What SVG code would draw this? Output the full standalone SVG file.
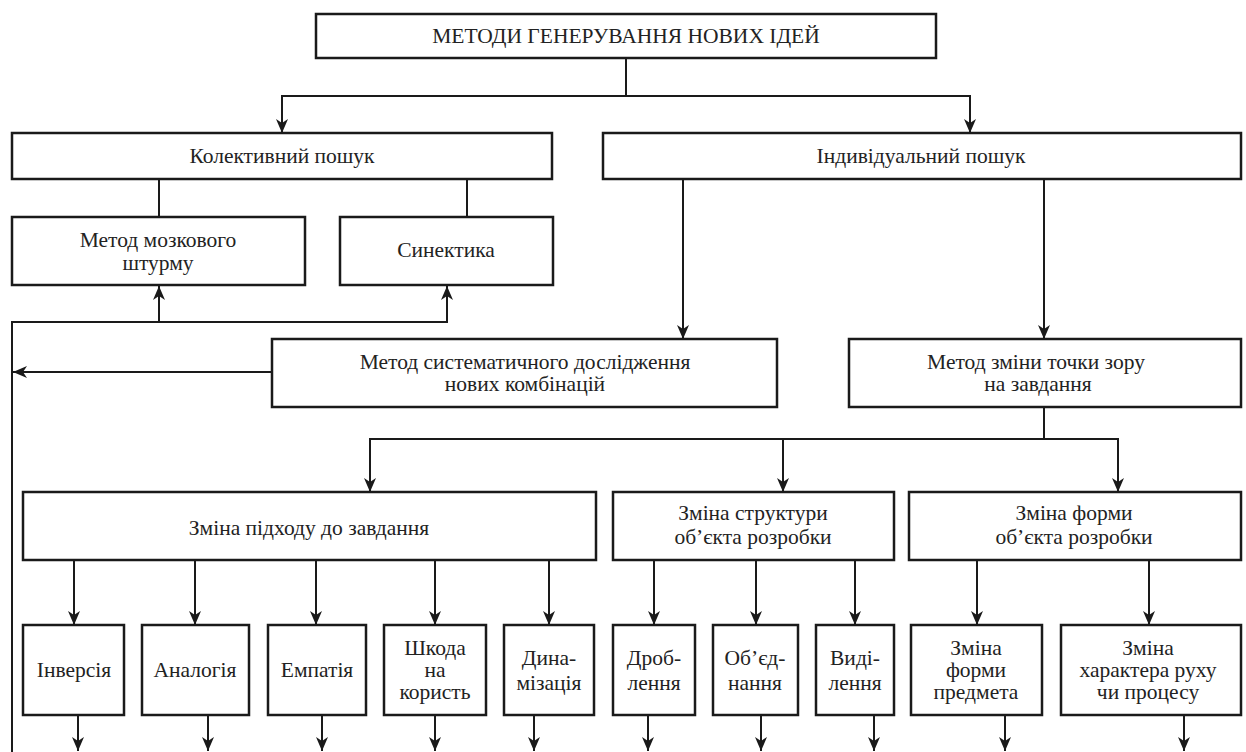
<svg xmlns="http://www.w3.org/2000/svg" width="1246" height="752" viewBox="0 0 1246 752">
<defs>
<marker id="ah" viewBox="0 0 14 12" refX="14" refY="6" markerWidth="14" markerHeight="12" markerUnits="userSpaceOnUse" orient="auto">
<path d="M0,0 L14,6 L0,12 L4,6 z" fill="#1a1a1a"/>
</marker>
<style>
rect{fill:#fff;stroke:#1a1a1a;stroke-width:2.5}
text{font-family:"Liberation Serif","Times New Roman",serif;font-size:21.5px;fill:#222;text-anchor:middle}
.c path{fill:none;stroke:#1a1a1a;stroke-width:2}
.a{marker-end:url(#ah)}
</style>
</defs>
<rect x="0" y="0" width="1246" height="752" style="fill:#fff;stroke:none"/>
<g class="c" id="connectors">
<path class="a" d="M626,58 V96 H282 V133"/>
<path class="a" d="M626,96 H970 V133"/>
<path d="M159,179 V217 M467,179 V217"/>
<path class="a" d="M12,752 V322 H159 V286"/>
<path class="a" d="M159,322 H447 V286"/>
<path class="a" d="M272,372 H13"/>
<path class="a" d="M683,179 V339"/>
<path class="a" d="M1044,179 V339"/>
<path class="a" d="M1044,407 V439 H370 V492"/>
<path class="a" d="M783,439 V492"/>
<path class="a" d="M1044,439 H1118 V492"/>
<path class="a" d="M74,560 V625"/>
<path class="a" d="M195,560 V625"/>
<path class="a" d="M316,560 V625"/>
<path class="a" d="M435,560 V625"/>
<path class="a" d="M549,560 V625"/>
<path class="a" d="M654,560 V625"/>
<path class="a" d="M756,560 V625"/>
<path class="a" d="M855,560 V625"/>
<path class="a" d="M977,560 V625"/>
<path class="a" d="M1149,560 V625"/>
<path class="a" d="M78,715 V751"/>
<path class="a" d="M208,715 V751"/>
<path class="a" d="M322,715 V751"/>
<path class="a" d="M435,715 V751"/>
<path class="a" d="M534,715 V751"/>
<path class="a" d="M648,715 V751"/>
<path class="a" d="M761,715 V751"/>
<path class="a" d="M874,715 V751"/>
<path class="a" d="M1005,715 V751"/>
<path class="a" d="M1184,715 V751"/>
</g>
<g id="root"><rect x="316" y="14" width="620" height="44"/><text x="626" y="43">МЕТОДИ ГЕНЕРУВАННЯ НОВИХ ІДЕЙ</text></g>
<g id="kolektyvnyi"><rect x="12" y="133" width="540" height="46"/><text x="282" y="163">Колективний пошук</text></g>
<g id="indyvidualnyi"><rect x="603" y="133" width="638" height="46"/><text x="921" y="163">Індивідуальний пошук</text></g>
<g id="mozkovyi"><rect x="12" y="217" width="293" height="68"/><text x="158" y="247">Метод мозкового</text><text x="158" y="270">штурму</text></g>
<g id="synektyka"><rect x="340" y="217" width="213" height="68"/><text x="446" y="257">Синектика</text></g>
<g id="systematychnyi"><rect x="272" y="339" width="505" height="68"/><text x="525" y="369">Метод систематичного дослідження</text><text x="525" y="391">нових комбінацій</text></g>
<g id="tochka-zoru"><rect x="849" y="339" width="392" height="68"/><text x="1036" y="369">Метод зміни точки зору</text><text x="1038" y="391">на завдання</text></g>
<g id="pidkhid"><rect x="23" y="492" width="573" height="68"/><text x="309" y="535">Зміна підходу до завдання</text></g>
<g id="struktura"><rect x="613" y="492" width="281" height="68"/><text x="753" y="520">Зміна структури</text><text x="753" y="544">об’єкта розробки</text></g>
<g id="forma"><rect x="909" y="492" width="332" height="68"/><text x="1074" y="520">Зміна форми</text><text x="1074" y="544">об’єкта розробки</text></g>
<g id="inversiia"><rect x="23" y="625" width="101" height="90"/><text x="74" y="677">Інверсія</text></g>
<g id="analohiia"><rect x="142" y="625" width="107" height="90"/><text x="195" y="677">Аналогія</text></g>
<g id="empatiia"><rect x="268" y="625" width="98" height="90"/><text x="317" y="677">Емпатія</text></g>
<g id="shkoda"><rect x="384" y="625" width="102" height="90"/><text x="435" y="655">Шкода</text><text x="435" y="677">на</text><text x="435" y="699">користь</text></g>
<g id="dynamizatsiia"><rect x="504" y="625" width="90" height="90"/><text x="549" y="665">Дина-</text><text x="549" y="690">мізація</text></g>
<g id="droblennia"><rect x="613" y="625" width="82" height="90"/><text x="654" y="665">Дроб-</text><text x="654" y="690">лення</text></g>
<g id="obiednannia"><rect x="713" y="625" width="85" height="90"/><text x="755" y="665">Об’єд-</text><text x="755" y="690">нання</text></g>
<g id="vydilennia"><rect x="816" y="625" width="78" height="90"/><text x="855" y="665">Виді-</text><text x="855" y="690">лення</text></g>
<g id="forma-predmeta"><rect x="911" y="625" width="131" height="90"/><text x="976" y="655">Зміна</text><text x="976" y="677">форми</text><text x="976" y="699">предмета</text></g>
<g id="kharakter-rukhu"><rect x="1061" y="625" width="180" height="90"/><text x="1148" y="655">Зміна</text><text x="1148" y="677">характера руху</text><text x="1148" y="699">чи процесу</text></g>
</svg>
